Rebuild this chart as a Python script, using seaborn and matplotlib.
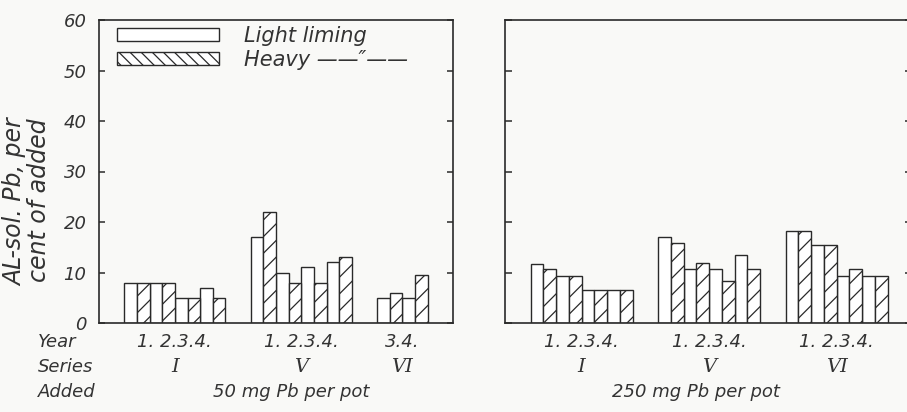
import seaborn as sns
import matplotlib.pyplot as plt
from matplotlib.patches import Patch
import pandas as pd

# values (AL-soluble Pb, % of added)
years_full = [1, 2, 3, 4]
years_vi_50 = [3, 4]

light_50_I = [8, 8, 5, 7]
heavy_50_I = [8, 8, 5, 5]
light_50_V = [17, 10, 11, 12]
heavy_50_V = [22, 8, 8, 13]
light_50_VI = [5, 5]
heavy_50_VI = [6, 9.5]

light_250_I = [11.6, 9.4, 6.5, 6.5]
heavy_250_I = [10.6, 9.4, 6.5, 6.5]
light_250_V = [17.0, 10.7, 10.7, 13.5]
heavy_250_V = [15.8, 11.8, 8.3, 10.7]
light_250_VI = [18.3, 15.5, 9.4, 9.4]
heavy_250_VI = [18.3, 15.5, 10.6, 9.4]

series_names = ["I", "V", "VI"]
liming_levels = ["Light liming", "Heavy liming"]
year_text_50 = ["1. 2.3.4.", "1. 2.3.4.", "3.4."]
year_text_250 = ["1. 2.3.4.", "1. 2.3.4.", "1. 2.3.4."]


def long_table(series, years, light, heavy):
    rows = []
    for y, lv, hv in zip(years, light, heavy):
        rows.append({"slot": f"{series}-{y}", "liming": "Light liming", "value": lv})
        rows.append({"slot": f"{series}-{y}", "liming": "Heavy liming", "value": hv})
    return pd.DataFrame(rows)


df_50 = pd.concat([long_table("I", years_full, light_50_I, heavy_50_I),
                   long_table("V", years_full, light_50_V, heavy_50_V),
                   long_table("VI", years_vi_50, light_50_VI, heavy_50_VI)])
df_250 = pd.concat([long_table("I", years_full, light_250_I, heavy_250_I),
                    long_table("V", years_full, light_250_V, heavy_250_V),
                    long_table("VI", years_full, light_250_VI, heavy_250_VI)])

order_50 = ([f"I-{y}" for y in years_full] + ["gap1"] +
            [f"V-{y}" for y in years_full] + ["gap2"] +
            [f"VI-{y}" for y in years_vi_50])
order_250 = ([f"I-{y}" for y in years_full] + ["gap1"] +
             [f"V-{y}" for y in years_full] + ["gap2"] +
             [f"VI-{y}" for y in years_full])

sns.set_theme(style="white")
plt.rcParams["font.family"] = ["DejaVu Sans"]
plt.rcParams["hatch.color"] = "#2a2a2a"
plt.rcParams["hatch.linewidth"] = 0.9

ink = "#2a2a2a"
paper = "#f9f9f7"

fig = plt.figure(figsize=(9.07, 4.12), dpi=100, facecolor=paper)
ax1 = fig.add_axes([99 / 907, 89 / 412, 354 / 907, 303 / 412])
ax2 = fig.add_axes([505 / 907, 89 / 412, 407 / 907, 303 / 412])


def draw_panel(ax, df, order):
    sns.barplot(data=df, x="slot", y="value", hue="liming", order=order,
                hue_order=liming_levels, palette=["white", "white"],
                width=1.0, dodge=True, errorbar=None, legend=False,
                edgecolor=ink, linewidth=1.0, ax=ax)
    for bar in ax.containers[1]:
        bar.set_hatch("//")
    ax.set_facecolor(paper)
    ax.set_ylim(0, 60)
    ax.set_yticks(range(0, 61, 10))
    ax.set_xticks([])
    ax.set_xlabel("")
    ax.set_ylabel("")
    for sp in ax.spines.values():
        sp.set_visible(True)
        sp.set_color(ink)
        sp.set_linewidth(1.2)


draw_panel(ax1, df_50, order_50)
draw_panel(ax2, df_250, order_250)
ax1.set_xlim(-1.5, 12.5)
ax2.set_xlim(-1.5, 14.46)

ax1.tick_params(axis="y", left=True, right=True, direction="in", length=4,
                width=1.1, color=ink, labelsize=13, labelcolor="#333", pad=9)
ax2.tick_params(axis="y", left=True, right=True, direction="in", length=5,
                width=1.1, color=ink, labelleft=False)
for t in ax1.get_yticklabels():
    t.set_fontstyle("italic")

ax1.set_ylabel("AL-sol. Pb, per\ncent of added", fontsize=17, fontstyle="italic",
               color="#333", multialignment="right", linespacing=1.0)
ax1.yaxis.set_label_coords(-0.135, 0.40)

handles = [Patch(facecolor="white", edgecolor=ink, linewidth=1.0, label="Light liming"),
           Patch(facecolor="white", edgecolor=ink, linewidth=1.0, hatch="\\\\\\",
                 label="Heavy \u2014\u2014\u2033\u2014\u2014")]
leg = ax1.legend(handles=handles, loc="upper left", bbox_to_anchor=(0.04, 0.995),
                 frameon=False, fontsize=15, handlelength=4.9, handleheight=0.58,
                 handletextpad=1.2, labelspacing=0.2, borderpad=0.2, borderaxespad=0)
for t in leg.get_texts():
    t.set_fontstyle("italic")
    t.set_color("#333")

# labels under the bars
txt = dict(fontsize=13, fontstyle="italic", color="#333", va="center")
row_year, row_series, row_added = -0.063, -0.145, -0.228
group_centres_50 = [1.5, 6.5, 10.5]
group_centres_250 = [1.5, 6.5, 11.5]
for ax, centres, years_txt in [(ax1, group_centres_50, year_text_50),
                               (ax2, group_centres_250, year_text_250)]:
    tr = ax.get_xaxis_transform()
    for c, yt, s in zip(centres, years_txt, series_names):
        ax.text(c, row_year, yt, transform=tr, ha="center", **txt)
        ax.text(c, row_series, s, transform=tr, ha="center", fontsize=14,
                fontstyle="italic", family="DejaVu Serif", color="#333", va="center")

ax1.text(6.1, row_added, "50 mg Pb per pot", transform=ax1.get_xaxis_transform(),
         ha="center", **txt)
ax2.text(6.0, row_added, "250 mg Pb per pot", transform=ax2.get_xaxis_transform(),
         ha="center", **txt)

fig.text(38 / 907, 1 - 342 / 412, "Year", ha="left", **txt)
fig.text(38 / 907, 1 - 367 / 412, "Series", ha="left", **txt)
fig.text(38 / 907, 1 - 392 / 412, "Added", ha="left", **txt)

fig.savefig("out.png", dpi=100, facecolor=paper)
